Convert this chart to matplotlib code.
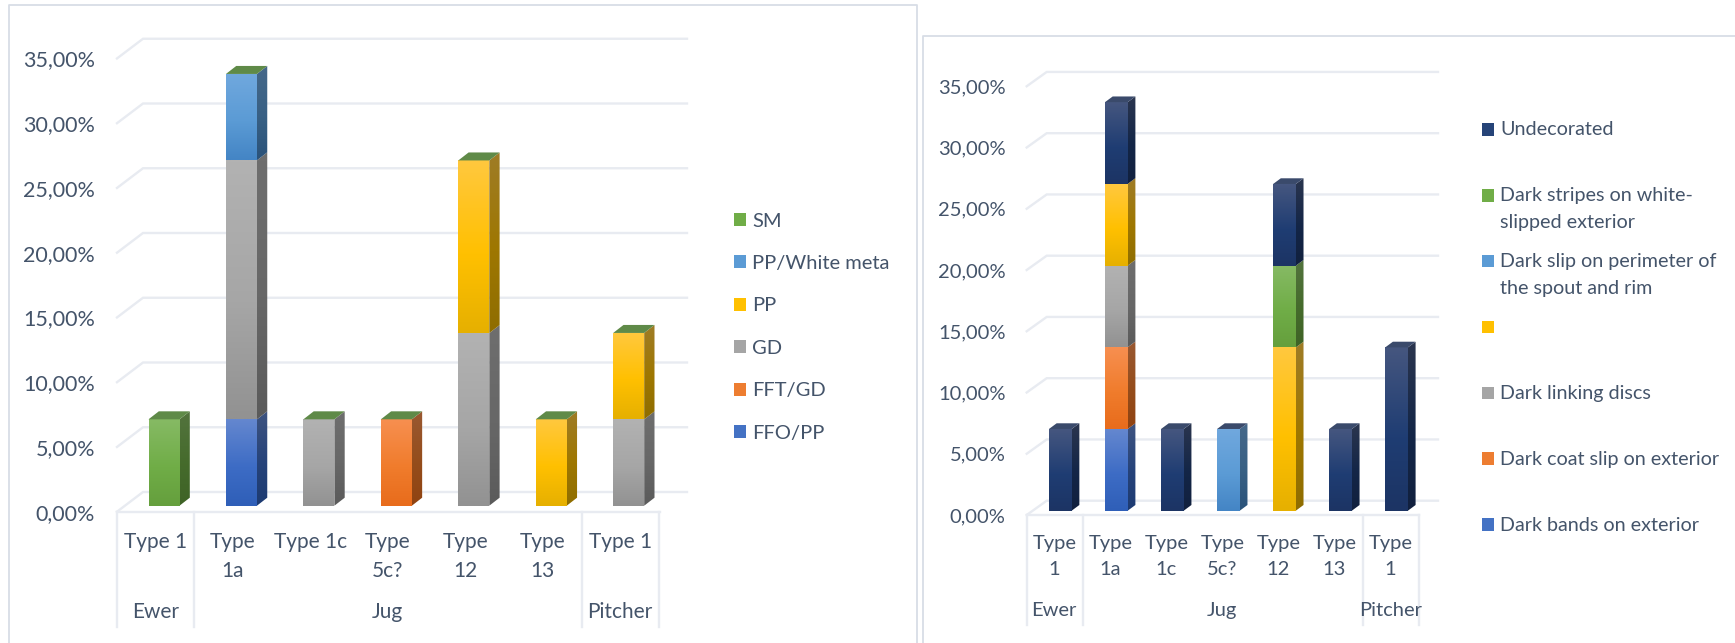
import numpy as np
import matplotlib
matplotlib.use("Agg")
import matplotlib.pyplot as plt
from matplotlib.patches import Patch, Polygon
from matplotlib.lines import Line2D
from matplotlib.colors import to_rgb
from matplotlib.transforms import ScaledTranslation

plt.rcParams['font.family'] = ['Lato', 'DejaVu Sans']

# ---- data ----
type_labels_left = ["Type 1", "Type\n1a", "Type 1c", "Type\n5c?", "Type\n12", "Type\n13", "Type 1"]
type_labels_right = ["Type\n1", "Type\n1a", "Type\n1c", "Type\n5c?", "Type\n12", "Type\n13", "Type\n1"]
group_names = ["Ewer", "Jug", "Pitcher"]
group_spans = [(0, 1), (1, 6), (6, 7)]
y_ticks = [0, 5, 10, 15, 20, 25, 30, 35]
y_tick_labels = ["0,00%", "5,00%", "10,00%", "15,00%", "20,00%", "25,00%", "30,00%", "35,00%"]

ffo_pp = [0, 6.67, 0, 0, 0, 0, 0]
fft_gd = [0, 0, 0, 6.67, 0, 0, 0]
gd = [0, 20.0, 6.67, 0, 13.33, 0, 6.67]
pp = [0, 0, 0, 0, 13.33, 6.67, 6.67]
pp_white = [0, 6.67, 0, 0, 0, 0, 0]
sm = [6.67, 0, 0, 0, 0, 0, 0]
left_names = ["FFO/PP", "FFT/GD", "GD", "PP", "PP/White meta", "SM"]

dark_bands = [0, 6.67, 0, 0, 0, 0, 0]
dark_coat = [0, 6.67, 0, 0, 0, 0, 0]
dark_discs = [0, 6.67, 0, 0, 0, 0, 0]
blank_series = [0, 6.67, 0, 0, 13.33, 0, 0]
dark_slip = [0, 0, 0, 6.67, 0, 0, 0]
dark_stripes = [0, 0, 0, 0, 6.67, 0, 0]
undecorated = [6.67, 6.67, 6.67, 0, 6.67, 6.67, 13.33]
right_names = ["Dark bands on exterior", "Dark coat slip on exterior", "Dark linking discs", "",
               "Dark slip on perimeter of\nthe spout and rim", "Dark stripes on white-\nslipped exterior",
               "Undecorated"]

# ---- style ----
W, H = 1735, 643
TXT = "#44546A"
GRID = "#E8EBF1"
BORDER = "#D8DDE6"
BLUE = ("#6487CF", "#3D6CC5", "#2F5FB8", "#4472C4")
ORANGE = ("#F78F50", "#F07C2C", "#E86C1C", "#ED7D31")
GRAY = ("#B2B2B2", "#A6A6A6", "#929292", "#A5A5A5")
YELLOW = ("#FFC83E", "#FFC000", "#E6B000", "#FFC000")
LBLUE = ("#70A8DE", "#5B9BD5", "#4485C5", "#5B9BD5")
GREEN = ("#86BA64", "#70AD47", "#659F3D", "#70AD47")
NAVY = ("#45567F", "#1F3D73", "#1C3464", "#264478")


def grad(c, factor=1.0, n=64):
    top, mid, bot = (np.array(to_rgb(x)) * factor for x in c[:3])
    t = np.linspace(0, 1, n)[:, None]
    arr = np.where(t < 0.55, top + (mid - top) * t / 0.55, mid + (bot - mid) * (t - 0.55) / 0.45)
    return arr[:, None, :]


fig = plt.figure(figsize=(W / 100, H / 100), dpi=100, facecolor="white")


def px_line(xs, ys, color=GRID, lw=1.6, z=0):
    fig.add_artist(Line2D([x / W for x in xs], [1 - y / H for y in ys], color=color, lw=lw, zorder=z,
                          solid_capstyle="butt"))


# panels
px_line([9, 9, 917, 917], [643, 5, 5, 643], BORDER, 1.3)
px_line([923, 923, 1735], [643, 36, 36], BORDER, 1.3)


def chart(series, colors, cap_color, x0, pitch, y0, unit, bar_w, dep_x, dep_y,
          floor, labels, pad_y, fs_y, fs_x, tick_dy, label_dx, group_dy, lab_bottom, lab_top, linesp, grid_right):
    left = x0 - pitch / 2
    ax = fig.add_axes([left / W, 1 - y0 / H, 7 * pitch / W, 35 * unit / H])
    ax.patch.set_alpha(0)
    for s in ax.spines.values():
        s.set_visible(False)
    xs = np.arange(7)
    w = bar_w / pitch
    dx = dep_x / pitch
    dy = dep_y / unit

    fx0, fy0, bx0, by0, fx1 = floor  # pixel geometry of the front / back edges
    to_x = lambda p: (p - x0) / pitch
    to_y = lambda p: (y0 - p) / unit
    for v in y_ticks:
        yb = to_y(by0) + v
        yf = to_y(fy0) + v
        ax.plot([to_x(fx0), to_x(bx0), to_x(grid_right)], [yf, yb, yb], color=GRID, lw=1.7,
                clip_on=False, zorder=1, solid_joinstyle="miter")
    ax.plot([to_x(fx0), to_x(fx1)], [to_y(fy0)] * 2, color=GRID, lw=1.7, clip_on=False, zorder=1.5)
    for b in [0, 1, 6, 7]:
        xb = to_x(fx0 + b * pitch)
        ax.plot([xb, xb], [to_y(fy0), to_y(lab_bottom)], color=GRID, lw=1.7, clip_on=False, zorder=1.5)

    bottom = np.zeros(7)
    z = 3
    for vals, col in zip(series, colors):
        vals = np.array(vals, float)
        bars = ax.bar(xs, vals, w, bottom=bottom, color=col[3], linewidth=0, zorder=z)
        for b in bars:
            h = b.get_height()
            if h <= 0:
                continue
            xa, ya = b.get_x(), b.get_y()
            im = ax.imshow(grad(col), extent=(xa, xa + w, ya, ya + h), aspect="auto",
                           interpolation="bilinear", zorder=z + 0.1)
            im.set_clip_path(b)
            side = Polygon([(xa + w, ya), (xa + w + dx, ya + dy), (xa + w + dx, ya + h + dy), (xa + w, ya + h)],
                           closed=True, transform=ax.transData, facecolor="none", edgecolor="none")
            ax.add_patch(side)
            ims = ax.imshow(grad(col, 0.62), extent=(xa + w, xa + w + dx, ya, ya + h + dy), aspect="auto",
                            interpolation="bilinear", zorder=z + 0.1)
            ims.set_clip_path(side)
        bottom = bottom + vals
        z += 1
    for xi, tot in zip(xs, bottom):
        xa = xi - w / 2
        ax.add_patch(Polygon([(xa, tot), (xa + w, tot), (xa + w + dx, tot + dy), (xa + dx, tot + dy)],
                             closed=True, facecolor=cap_color, edgecolor="none", zorder=z))

    ax.set_xlim(-0.5, 6.5)
    ax.set_ylim(0, 35)

    ax.set_yticks(y_ticks, y_tick_labels)
    ax.tick_params(axis="y", length=0, pad=pad_y, labelsize=fs_y, labelcolor=TXT)
    for lab in ax.get_yticklabels():
        lab.set_transform(lab.get_transform() + ScaledTranslation(0, -tick_dy / 100, fig.dpi_scale_trans))
    ax.set_xticks(xs, labels)
    ax.tick_params(axis="x", length=0, pad=(lab_top - y0) * 0.72, labelsize=fs_x, labelcolor=TXT)
    for lab in ax.get_xticklabels():
        lab.set_linespacing(linesp)
        lab.set_transform(lab.get_transform() + ScaledTranslation(-label_dx / 100, 0, fig.dpi_scale_trans))
    for name, (a, b) in zip(group_names, group_spans):
        ax.annotate(name, xy=((a + b - 1) / 2, 0), xycoords="data", xytext=(-label_dx, -group_dy),
                    textcoords="offset pixels", ha="center", va="center", color=TXT, fontsize=fs_x,
                    annotation_clip=False)
    return ax


left_colors = [BLUE, ORANGE, GRAY, YELLOW, LBLUE, GREEN]
right_colors = [BLUE, ORANGE, GRAY, YELLOW, LBLUE, GREEN, NAVY]

chart([ffo_pp, fft_gd, gd, pp, pp_white, sm], left_colors, "#5F8A48",
      164, 77.45, 505.7, 12.95, 31, 10.3, 8,
      (117, 511.7, 143, 492, 660), type_labels_left, 21.8, 15.5, 15, 6, 8.5, 106, 627, 532, 1.55, 687)
chart([dark_bands, dark_coat, dark_discs, blank_series, dark_slip, dark_stripes, undecorated],
      right_colors, "#3A4A6B",
      1060.3, 56.04, 510.7, 12.25, 22.7, 7.7, 5.7,
      (1026.7, 515, 1046.7, 500.7, 1419), type_labels_right, 19.2, 14.5, 14.5, 4.3, 6, 100, 625, 535.5, 1.6, 1438)

# legends
h_left = [Patch(facecolor=c[3]) for c in left_colors][::-1]
leg = fig.legend(h_left, left_names[::-1], loc="upper left", bbox_to_anchor=(734 / W, 1 - 212.5 / H),
                 frameon=False, borderpad=0, borderaxespad=0, fontsize=14.5, labelcolor=TXT,
                 handlelength=0.6, handleheight=0.6, handletextpad=0.3, labelspacing=1.265)

h_right = [Patch(facecolor=c[3]) for c in right_colors][::-1]
rn = right_names[::-1]
rn_two = [n if "\n" in n else (n if n else " ") + "\n " for n in rn]
leg2 = fig.legend(h_right, rn_two, loc="upper left", bbox_to_anchor=(1482 / W, 1 - 121.3 / H),
                  frameon=False, borderpad=0, borderaxespad=0, fontsize=14.2, labelcolor=TXT,
                  handlelength=0.61, handleheight=0.61, handletextpad=0.3, labelspacing=1.12)
for t in leg2.get_texts():
    t.set_linespacing(1.7)
for p in leg2.legend_handles:
    p.set_y(p.get_y() + 10.0)

fig.savefig("out.png", dpi=100, facecolor="white")
